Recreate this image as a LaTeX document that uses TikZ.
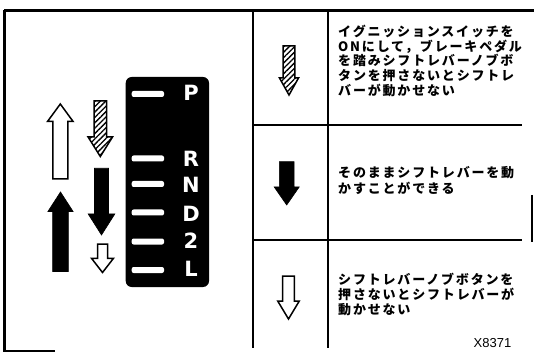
\documentclass[tikz,border=0pt]{standalone}
\usepackage{fontspec}
\usetikzlibrary{patterns.meta}
\newfontfamily\cjk{Noto Sans CJK JP}[LetterSpace=14]
\newfontfamily\gearfont{DejaVu Sans}
\newfontfamily\codefont{Liberation Sans}
% #1 style, #2 centre x, #3 shaft half width, #4 shaft end y, #5 head base y, #6 head half width, #7 tip y
\newcommand\myvarrow[7]{\filldraw[#1] (#2-#3,#4) -- (#2+#3,#4) -- (#2+#3,#5) -- (#2+#6,#5) -- (#2,#7) -- (#2-#6,#5) -- (#2-#3,#5) -- cycle;}
\tikzset{
  frame/.style={line width=2.2pt},
  rule/.style={line width=1.8pt},
  jp/.style={anchor=base west, inner sep=0pt, font=\cjk\bfseries\fontsize{13}{14}\selectfont},
  gear/.style={text=white, inner sep=0pt, font=\gearfont\bfseries\fontsize{21}{22}\selectfont},
  gearbar/.style={fill=white, rounded corners=2pt},
  warrow/.style={fill=white, draw=black, line width=1.5pt, line join=miter},
  barrow/.style={fill=black, draw=black, line width=0.6pt},
  harrow/.style={pattern={Lines[angle=45,distance=3.8pt,line width=1.3pt]}, draw=black, line width=1.5pt},
}
\begin{document}
\begin{tikzpicture}[x=1pt,y=-1pt]
\useasboundingbox (0,0) rectangle (534,352);
% frame
\draw[frame] (4,10.5) -- (534,10.5);
\draw[frame] (4.5,10) -- (4.5,352);
\draw[frame] (4,350.8) -- (55,350.8);
\draw[rule] (532,195) -- (532,242);
% table rules
\draw[rule] (252.7,12) -- (252.7,348);
\draw[rule] (327.7,12) -- (327.7,348);
\draw[rule] (252.7,125) -- (522,125);
\draw[rule] (252.7,240) -- (522,240);
% gear panel
\fill[black, rounded corners=6pt] (125.7,77) rectangle (209,287);
\foreach \yy in {94,158.5,184,212.5,241.5,270}{
  \fill[gearbar] (131.7,\yy-3) rectangle (164,\yy+3);
}
\node[gear] (gP) at (191,93.3) {P};
\node[gear] (gR) at (191,159) {R};
\node[gear] (gN) at (191,185) {N};
\node[gear] (gD) at (191,213.5) {D};
\node[gear] (g2) at (191,240.7) {2};
\node[gear] (gL) at (191,269.2) {L};
% left arrows
\myvarrow{warrow}{60.3}{7.5}{179}{121.5}{12.8}{104}
\myvarrow{barrow}{60.5}{7.8}{271.5}{211.5}{12.6}{192}
\myvarrow{harrow}{100.3}{6.3}{101}{137}{12.2}{156.5}
\myvarrow{barrow}{101.5}{7}{168.3}{214}{13.3}{235}
\myvarrow{warrow}{102.5}{5}{244}{258.3}{11}{272.5}
% right column arrows
\myvarrow{harrow}{289}{5.8}{46}{78}{9.5}{95}
\myvarrow{barrow}{286.7}{7.3}{161.7}{187}{12.5}{205}
\myvarrow{warrow}{288.5}{5.8}{276}{301}{10.8}{319}
% texts
\node[jp] (r1a) at (338,36.6) {イグニッションスイッチを};
\node[jp] (r1b) at (338,51.3) {ONにして，ブレーキペダル};
\node[jp] (r1c) at (338,66) {を踏みシフトレバーノブボ};
\node[jp] (r1d) at (338,80.7) {タンを押さないとシフトレ};
\node[jp] (r1e) at (338,95.4) {バーが動かせない};
\node[jp] (r2a) at (338,177.6) {そのままシフトレバーを動};
\node[jp] (r2b) at (338,193.2) {かすことができる};
\node[jp] (r3a) at (338,284.9) {シフトレバーノブボタンを};
\node[jp] (r3b) at (338,299.9) {押さないとシフトレバーが};
\node[jp] (r3c) at (338,314.9) {動かせない};
\node[inner sep=0pt, font=\codefont\fontsize{13}{13}\selectfont] (code) at (492.5,343) {X8371};
\end{tikzpicture}
\end{document}
